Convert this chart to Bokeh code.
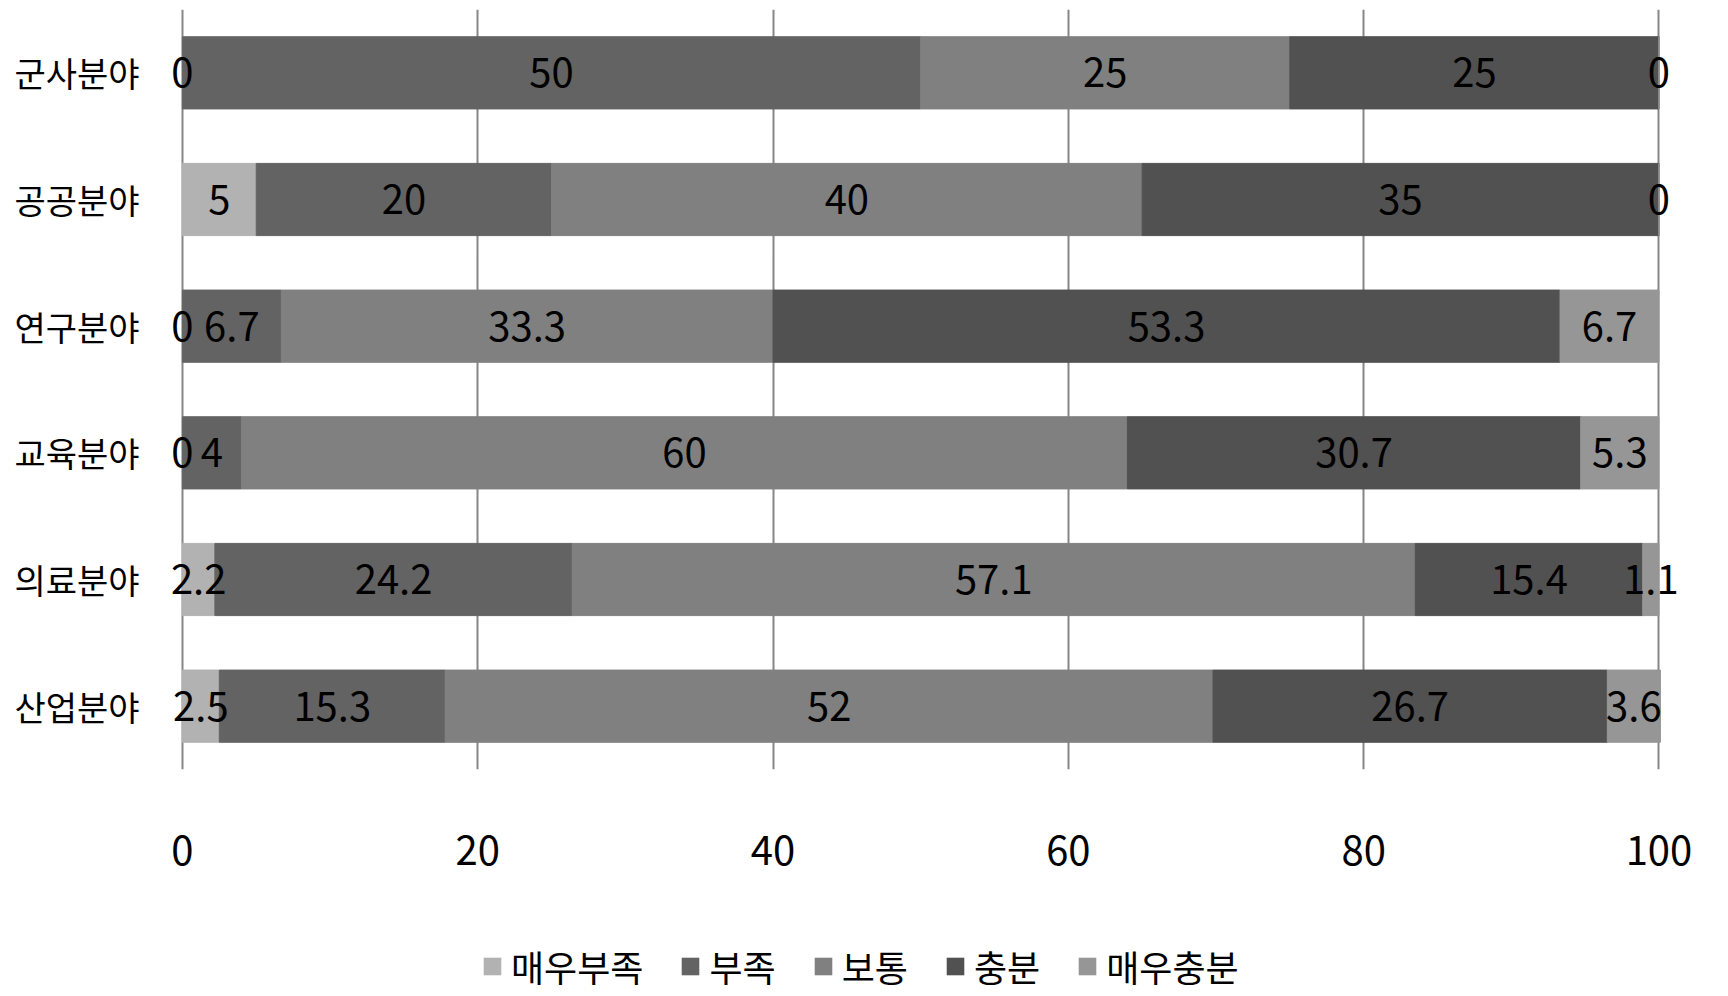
import numpy as np
from bokeh.plotting import figure
from bokeh.layouts import column
from bokeh.models import ColumnDataSource, Legend, LegendItem, FixedTicker, LabelSet
from bokeh.core.properties import value
from bokeh.embed import file_html
from bokeh.resources import INLINE

categories = ["군사분야", "공공분야", "연구분야", "교육분야", "의료분야", "산업분야"]
series_names = ["매우부족", "부족", "보통", "충분", "매우충분"]
very_low = [0, 5, 0, 0, 2.2, 2.5]
low = [50, 20, 6.7, 4, 24.2, 15.3]
normal = [25, 40, 33.3, 60, 57.1, 52]
enough = [25, 35, 53.3, 30.7, 15.4, 26.7]
very_enough = [0, 0, 6.7, 5.3, 1.1, 3.6]
x_ticks = [0, 20, 40, 60, 80, 100]

colors = ["#b2b2b2", "#636363", "#808080", "#515151", "#969696"]
keys = ["s0", "s1", "s2", "s3", "s4"]
values = [very_low, low, normal, enough, very_enough]

FONT = "Noto Sans CJK KR"

data = {"cat": categories}
for k, v in zip(keys, values):
    data[k] = v
source = ColumnDataSource(data)

p = figure(width=1728, height=900, y_range=list(reversed(categories)), x_range=(-2.5, 102),
           output_backend="svg", toolbar_location=None,
           min_border_left=145, min_border_right=40, min_border_top=9, min_border_bottom=131)
p.outline_line_color = None
p.background_fill_color = "white"

renderers = p.hbar_stack(keys, y="cat", height=0.57, color=colors, source=source)

# value labels at segment midpoints
arr = np.array(values, dtype=float)
cum = np.cumsum(arr, axis=0)
mid = cum - arr / 2
lx, ly, lt = [], [], []
for i in range(len(keys)):
    for j, c in enumerate(categories):
        lx.append(mid[i, j])
        ly.append(c)
        v = values[i][j]
        lt.append(str(int(v)) if float(v).is_integer() else str(v))
lsrc = ColumnDataSource(dict(x=lx, y=ly, t=lt))
labels = LabelSet(x="x", y="y", text="t", source=lsrc, text_align="center", text_baseline="middle",
                  text_font=value(FONT), text_font_size=value("40px"), text_color="black")
p.add_layout(labels)

# axes
p.xaxis.ticker = FixedTicker(ticks=x_ticks)
p.xaxis.axis_line_color = None
p.xaxis.major_tick_line_color = None
p.xaxis.minor_tick_line_color = None
p.xaxis.major_label_text_font = FONT
p.xaxis.major_label_text_font_size = "40px"
p.xaxis.major_label_text_color = "black"
p.xaxis.major_label_standoff = 60

p.yaxis.axis_line_color = None
p.yaxis.major_tick_line_color = None
p.yaxis.minor_tick_line_color = None
p.yaxis.major_label_text_font = FONT
p.yaxis.major_label_text_font_size = "34px"
p.yaxis.major_label_text_color = "black"
p.yaxis.major_label_standoff = 0

p.ygrid.grid_line_color = None
p.xgrid.ticker = FixedTicker(ticks=x_ticks)
p.xgrid.grid_line_color = "#868686"
p.xgrid.grid_line_width = 2
p.xgrid.level = "underlay"

# legend strip below the chart (proxy renderers kept outside the visible range)
p2 = figure(width=1728, height=96, x_range=(0, 1), y_range=(0, 1),
            x_axis_type=None, y_axis_type=None, output_backend="svg", toolbar_location=None,
            min_border=0, min_border_left=0, min_border_right=0, min_border_top=0, min_border_bottom=0)
p2.outline_line_color = None
p2.grid.visible = False
lg_src = ColumnDataSource(dict(y=[-100], l=[0], r=[0]))
lg_renderers = [p2.hbar(y="y", left="l", right="r", height=0.1, fill_color=c, line_color=None,
                        source=lg_src) for c in colors]
items = [LegendItem(label=n, renderers=[r]) for n, r in zip(series_names, lg_renderers)]
legend = Legend(items=items, orientation="horizontal", location=(336, 4),
                label_text_font=FONT, label_text_font_size="36px", label_text_color="black",
                glyph_width=22, glyph_height=22, spacing=36, padding=0, margin=0,
                border_line_color=None, background_fill_alpha=0, label_standoff=8)
p2.add_layout(legend, "center")

layout = column(p, p2, spacing=0)
open("out.html", "w").write(file_html(layout, INLINE))
